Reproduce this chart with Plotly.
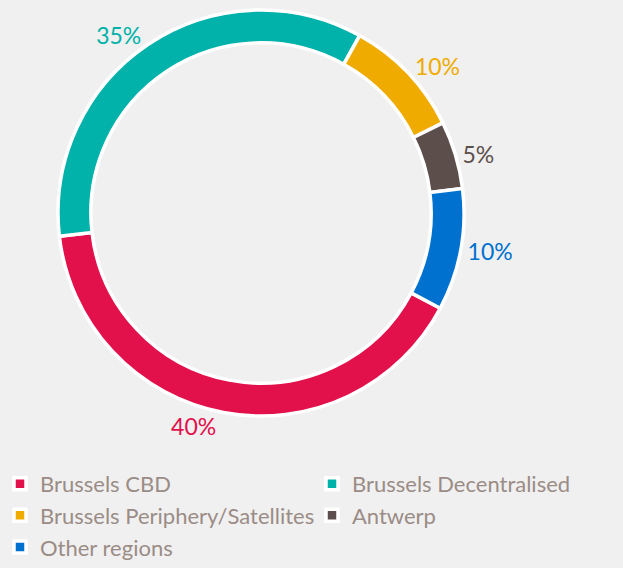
import plotly.graph_objects as go

labels = ["Brussels CBD", "Brussels Decentralised", "Brussels Periphery/Satellites", "Antwerp", "Other regions"]
values = [40.4, 34.9, 9.6, 5.4, 9.7]
colors = ["#e2104b", "#00b2a9", "#f0ab00", "#5c4f4b", "#0071ce"]

fig = go.Figure(go.Pie(
    labels=labels,
    values=values,
    sort=False,
    direction="clockwise",
    rotation=118,
    hole=0.838,
    marker=dict(colors=colors, line=dict(color="#ffffff", width=3.5)),
    textposition="outside",
    texttemplate="%{percent:.0%}",
    textfont=dict(color=colors, size=23, family="Lato"),
    domain=dict(x=[0.0931, 0.7448], y=[0.2676, 0.9824]),
    hoverinfo="skip",
))

fig.update_layout(
    width=623, height=568,
    margin=dict(l=0, r=0, t=0, b=0),
    paper_bgcolor="#f0f0f0",
    plot_bgcolor="#f0f0f0",
    showlegend=True,
    legend=dict(
        orientation="h",
        x=0, xanchor="left",
        y=0.185, yanchor="top",
        entrywidth=267, entrywidthmode="pixels",
        font=dict(family="Lato", size=22, color="#9b8c86"),
        bgcolor="rgba(0,0,0,0)",
        traceorder="normal",
    ),
)

fig.write_html(
    "out.html",
    config={"displayModeBar": False},
    post_script="document.body.style.margin='0';document.body.style.background='#f0f0f0';",
)
